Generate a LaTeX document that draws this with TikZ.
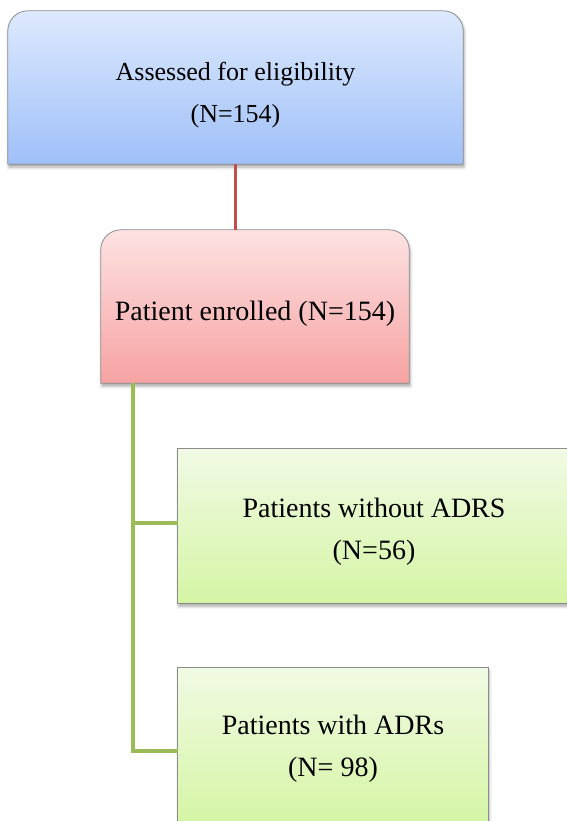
\documentclass[tikz,border=0pt]{standalone}
\usepackage{fontspec}
\setmainfont{Liberation Serif}
\usetikzlibrary{shadows.blur,backgrounds}
\definecolor{blueT}{HTML}{DDE9FD}
\definecolor{blueB}{HTML}{9FC0F8}
\definecolor{pinkT}{HTML}{FDE2E2}
\definecolor{pinkB}{HTML}{F6A2A2}
\definecolor{greenT}{HTML}{F1FAE4}
\definecolor{greenB}{HTML}{D5F5A5}
\definecolor{linkred}{HTML}{C0504D}
\definecolor{linkgreen}{HTML}{9BBB59}
\newcommand\topstrut[1][34pt]{\rule{0pt}{#1}}
\begin{document}
\begin{tikzpicture}[x=1pt,y=1pt,
  boxnode/.style={draw=none, inner sep=0pt, align=center,
    font=\fontsize{28}{42}\selectfont, minimum height=153pt},
  boxline/.style={draw=black!45, line width=0.8pt},
  shadowed/.style={blur shadow={shadow xshift=1pt, shadow yshift=-3pt,
    shadow blur radius=3pt, shadow opacity=35}},
  redlink/.style={draw=linkred, line width=3.2pt},
  greenlink/.style={draw=linkgreen, line width=4.5pt}]
\useasboundingbox (0,0) rectangle (566,-821);
\clip (0,0) rectangle (566,-821);

\node[boxnode, minimum width=455pt, font=\fontsize{26}{42}\selectfont] (assess) at (235.5,-87.5)
  {\topstrut Assessed for eligibility\\(N=154)};
\node[boxnode, minimum width=308pt] (enrol) at (255,-306.5)
  {\topstrut Patient enrolled (N=154)};
\node[boxnode, minimum width=392pt, minimum height=154pt] (without) at (374,-526)
  {\topstrut[30pt]Patients without ADRS\\(N=56)};
\node[boxnode, minimum width=310pt, minimum height=154pt] (with) at (333,-745)
  {\topstrut[26pt]Patients with ADRs\\(N= 98)};

\begin{pgfonlayer}{background}
  \shade[boxline, shadowed, top color=blueT, bottom color=blueB]
    (assess.south west) -- ([yshift=-20pt]assess.north west)
    arc[start angle=180, end angle=90, radius=20pt]
    -- ([xshift=-20pt]assess.north east)
    arc[start angle=90, end angle=0, radius=20pt]
    -- (assess.south east) -- cycle;
  \shade[boxline, shadowed, top color=pinkT, bottom color=pinkB]
    (enrol.south west) -- ([yshift=-20pt]enrol.north west)
    arc[start angle=180, end angle=90, radius=20pt]
    -- ([xshift=-20pt]enrol.north east)
    arc[start angle=90, end angle=0, radius=20pt]
    -- (enrol.south east) -- cycle;
  \shade[boxline, shadowed, top color=greenT, bottom color=greenB]
    (without.south west) rectangle (without.north east);
  \shade[boxline, shadowed, top color=greenT, bottom color=greenB]
    (with.south west) rectangle (with.north east);
  \draw[redlink] (assess.south) -- (assess.south |- enrol.north);
  \coordinate (trunk) at ([xshift=32pt]enrol.south west);
  \coordinate (j1) at ([yshift=3pt]without.west);
  \coordinate (j2) at ([yshift=-6pt]with.west);
  \draw[greenlink] (trunk) |- (j2);
  \draw[greenlink] (trunk |- j1) -- (j1);
\end{pgfonlayer}
\end{tikzpicture}
\end{document}
